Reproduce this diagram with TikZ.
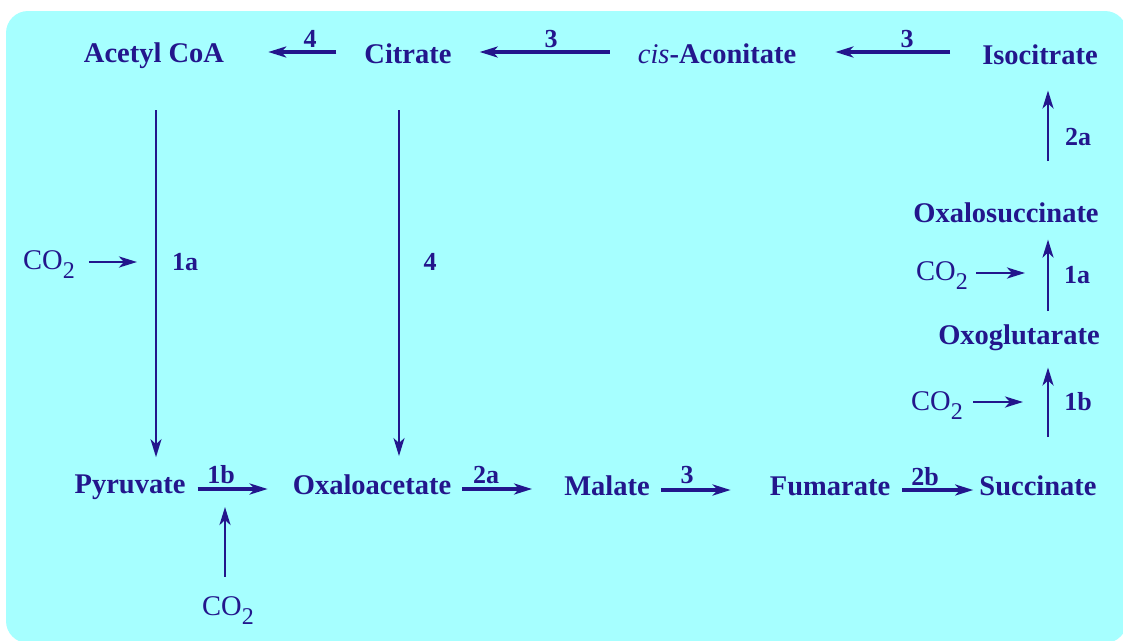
\documentclass[tikz,border=0pt]{standalone}
\usepackage{fontspec}
\setmainfont{Liberation Serif}
\usetikzlibrary{arrows.meta,positioning}
\definecolor{panel}{RGB}{166,255,255}
\definecolor{ink}{RGB}{35,22,140}
\newcommand{\cotwo}{CO\raisebox{-0.34em}{\fontsize{24}{24}\selectfont 2}}

\begin{document}
\begin{tikzpicture}[x=1pt,y=-1pt,
  metab/.style={font=\fontsize{28.5}{32}\selectfont\bfseries, text=ink, inner sep=0pt, anchor=base},
  gas/.style={font=\fontsize{28.5}{32}\selectfont, text=ink, inner sep=0pt, anchor=base},
  enz/.style={font=\fontsize{26}{30}\selectfont\bfseries, text=ink, inner sep=0pt, anchor=base},
  rxn/.style={draw=ink, line width=3.2pt, -{Stealth[length=18pt,width=11pt,inset=5pt]}},
  thin rxn/.style={rxn, line width=1.9pt},
  up rxn/.style={rxn, line width=2.6pt}]
\useasboundingbox (0,0) rectangle (1123,640);
% panel
\fill[panel, rounded corners=22pt] (6,11) rectangle (1127,643);

% top row
\node[metab] (acoa) at (154,62) {Acetyl CoA};
\node[metab] (cit) at (408,63) {Citrate};
\node[metab] (cisac) at (717,63) {\textnormal{\itshape cis}-Aconitate};
\node[metab] (isocit) at (1040,64) {Isocitrate};

% right column
\node[metab] (oxsuc) at (1006,222) {Oxalosuccinate};
\node[metab] (oxglu) at (1019,344) {Oxoglutarate};

% bottom row
\node[metab] (pyr) at (130,493) {Pyruvate};
\node[metab] (oaa) at (372,494) {Oxaloacetate};
\node[metab] (mal) at (607,495) {Malate};
\node[metab] (fum) at (830,495) {Fumarate};
\node[metab] (succ) at (1038,495) {Succinate};

% carbon dioxide inputs
\node[gas] (co2a) at (49,269) {\cotwo};
\node[gas] (co2b) at (228,615) {\cotwo};
\node[gas] (co2c) at (942,280) {\cotwo};
\node[gas] (co2d) at (937,410) {\cotwo};

% reaction numbers
\node[enz] (r4top) at (310,47) {4};
\node[enz] (r3top) at (551,47) {3};
\node[enz] (r3iso) at (907,47) {3};
\node[enz] (r1aleft) at (185,270) {1a};
\node[enz] (r4mid) at (430,270) {4};
\node[enz] (r1bpyr) at (221,483) {1b};
\node[enz] (r2aoaa) at (486,483) {2a};
\node[enz] (r3mal) at (687,483) {3};
\node[enz] (r2bfum) at (925,485) {2b};
\node[enz] (r2aiso) at (1078,145) {2a};
\node[enz] (r1aoxs) at (1077,283) {1a};
\node[enz] (r1boxg) at (1078,410) {1b};

% top arrows
\draw[rxn, shorten <=28pt, shorten >=44pt] ([yshift=11pt]cit.base west) -- ([yshift=11pt]cit.base west -| acoa.east);
\draw[rxn, shorten <=28pt, shorten >=28pt] ([yshift=11pt]cisac.base west) -- ([yshift=11pt]cisac.base west -| cit.east);
\draw[rxn, shorten <=32pt, shorten >=39pt] ([yshift=12pt]isocit.base west) -- ([yshift=12pt]isocit.base west -| cisac.east);

% long verticals
\draw[thin rxn, shorten <=42pt, shorten >=17pt] ([xshift=2pt]acoa.south) -- ([xshift=2pt]acoa.south |- pyr.north);
\draw[thin rxn, shorten <=47pt, shorten >=18pt] ([xshift=-9pt]cit.south) -- ([xshift=-9pt]cit.south |- oaa.north);

% bottom arrows
\draw[rxn, shorten <=12pt, shorten >=25pt] ([yshift=4pt]pyr.base east) -- ([yshift=4pt]pyr.base east -| oaa.west);
\draw[rxn, shorten <=11pt, shorten >=32pt] ([yshift=5pt]oaa.base east) -- ([yshift=5pt]oaa.base east -| mal.west);
\draw[rxn, shorten <=11pt, shorten >=39pt] ([yshift=5pt]mal.base east) -- ([yshift=5pt]mal.base east -| fum.west);
\draw[rxn, shorten <=12pt, shorten >=6pt] ([yshift=5pt]fum.base east) -- ([yshift=5pt]fum.base east -| succ.west);

% right column arrows
\draw[up rxn, shorten <=38pt, shorten >=17pt] ([xshift=10pt]succ.north) -- ([xshift=10pt]succ.north |- oxglu.south);
\draw[up rxn, shorten <=13pt, shorten >=17pt] ([xshift=29pt]oxglu.north) -- ([xshift=29pt]oxglu.north |- oxsuc.south);
\draw[up rxn, shorten <=41pt, shorten >=26pt] ([xshift=42pt]oxsuc.north) -- ([xshift=42pt]oxsuc.north |- isocit.south);

% CO2 arrows
\draw[rxn, line width=2.8pt, shorten <=14pt, shorten >=17pt] ([yshift=7pt]co2a.base east) -- ([yshift=7pt]co2a.base east -| acoa.south);
\draw[rxn, line width=2.6pt, shorten <=19pt, shorten >=14pt] ([xshift=-3pt]co2b.north) -- ([xshift=-3pt]co2b.north |- pyr.base);
\draw[rxn, line width=2.8pt, shorten <=8pt, shorten >=15pt] ([yshift=7pt]co2c.base east) -- ([yshift=7pt]co2c.base east -| isocit.south);
\draw[rxn, line width=2.8pt, shorten <=10pt, shorten >=17pt] ([yshift=8pt]co2d.base east) -- ([yshift=8pt]co2d.base east -| isocit.south);
\end{tikzpicture}
\end{document}
